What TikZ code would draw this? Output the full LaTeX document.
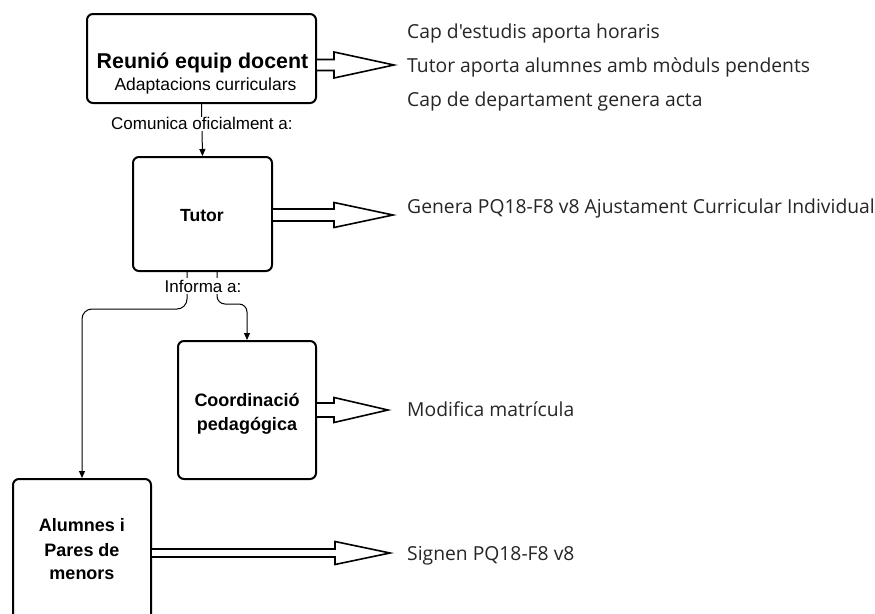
\documentclass[tikz,border=0pt]{standalone}
\usepackage{fontspec}
\setmainfont{Liberation Sans}
\newfontfamily\osans{Open Sans}
\usetikzlibrary{arrows.meta,calc}
\newcommand\harrow[6]{%
  \draw[hollow] ($(#1.east)+(0,#2)$) ++(0,-#3) -- ++(#5,0) -- ++(0,#3-#4)
    -- ++(#6,#4) -- ++(-#6,#4) -- ++(0,#3-#4) -- ++(-#5,0);}
\begin{document}
\begin{tikzpicture}[x=1pt,y=-1pt,
  box/.style={draw=black, line width=2pt, rounded corners=6pt, inner sep=0pt, fill=white},
  conn/.style={draw=black, line width=1pt, -{Triangle[width=6pt,length=7pt]}},
  hollow/.style={draw=black, line width=1.6pt, fill=white, line join=miter},
  rtext/.style={anchor=base west, font=\osans\fontsize{19.3}{21}\selectfont, text=black!85, inner sep=0pt},
  btext/.style={anchor=base, font=\bfseries\fontsize{18}{20}\selectfont, inner sep=0pt},
  ltext/.style={font=\fontsize{17}{20}\selectfont, fill=white, inner sep=1pt}]
\clip (0,0) rectangle (875,613);
\fill[white] (0,0) rectangle (875,613);

% boxes
\node[box, minimum width=229pt, minimum height=89pt] (reunio) at (201.5,58.5) {};
\node[box, minimum width=139pt, minimum height=114pt] (tutor) at (202.5,214) {};
\node[box, minimum width=138pt, minimum height=138pt] (coord) at (247,410) {};
\node[box, minimum width=138pt, minimum height=142pt] (alum) at (82,550) {};

% box texts
\node[btext, font=\bfseries\fontsize{21.4}{23}\selectfont] (t1a) at (202.5,68.3) {Reunió equip docent};
\node[btext, font=\fontsize{17.5}{20}\selectfont] (t1b) at (205.5,90.7) {Adaptacions curriculars};
\node[btext, font=\bfseries\fontsize{17.6}{20}\selectfont] (t2) at (202,221.7) {Tutor};
\node[btext] (t3a) at (247,406.7) {Coordinació};
\node[btext] (t3b) at (247,430) {pedagógica};
\node[btext] (t4a) at (82,531.7) {Alumnes i};
\node[btext] (t4b) at (82,556) {Pares de};
\node[btext] (t4c) at (82,579.3) {menors};

% connectors
\draw[conn] (reunio.south) -- node[ltext, pos=0.38] (l1) {Comunica oficialment a:} (tutor.north);
\draw[conn, rounded corners=10pt] ([xshift=-15.5pt]tutor.south) -- ++(0,37) -| (alum.north);
\draw[conn, rounded corners=8pt] ([xshift=14.5pt]tutor.south) -- ++(0,32) -| (coord.north);
\node[ltext, inner sep=2pt] (l2) at (203,286) {Informa a:};

% hollow arrows
\harrow{reunio}{6.5}{5.5}{13}{17}{60}
\harrow{tutor}{1}{6}{12.5}{61}{59}
\harrow{coord}{0}{7}{12.5}{17}{54}
\harrow{alum}{3}{4}{11.5}{183}{55}

% right texts
\node[rtext] (r1) at (407,38.3) {Cap d'estudis aporta horaris};
\node[rtext] (r2) at (407,72.7) {Tutor aporta alumnes amb mòduls pendents};
\node[rtext] (r3) at (407,106) {Cap de departament genera acta};
\node[rtext] (r4) at (407,213.3) {Genera PQ18-F8 v8 Ajustament Curricular Individual};
\node[rtext] (r5) at (407,416.7) {Modifica matrícula};
\node[rtext] (r6) at (407,560) {Signen PQ18-F8 v8};
\end{tikzpicture}
\end{document}
